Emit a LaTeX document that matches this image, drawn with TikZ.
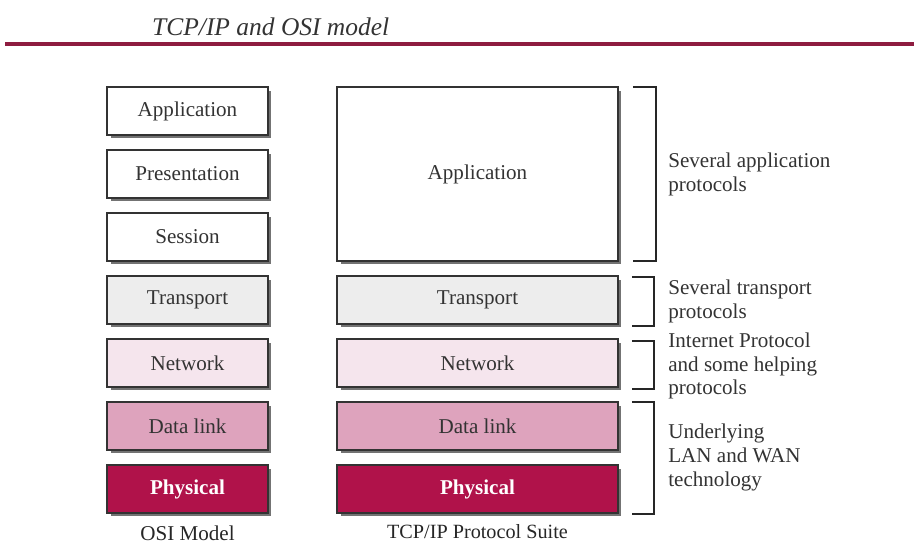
\documentclass[tikz,border=0pt]{standalone}
\usepackage{fontspec}
\setmainfont{Liberation Serif}
\usetikzlibrary{positioning, shadows, calc}
\definecolor{osimaroon}{HTML}{8E1C40}
\definecolor{osiphys}{HTML}{B0124A}
\definecolor{osilink}{HTML}{DEA3BD}
\definecolor{osinet}{HTML}{F5E5ED}
\definecolor{ositrans}{HTML}{EDEDED}

\begin{document}
\begin{tikzpicture}[x=0.02cm, y=-0.02cm,
      layer/.style={draw=black!80, line width=0.8pt, fill=white,
                    minimum width=3.22cm, minimum height=0.96cm,
                    inner sep=0pt, outer sep=0pt,
                    font=\fontsize{12}{14}\selectfont, text=black!80,
                    drop shadow={shadow xshift=0.07cm, shadow yshift=-0.07cm,
                                 fill=black!55, opacity=1}},
      wide/.style={layer, minimum width=5.62cm},
      brace/.style={line width=0.8pt, black!85},
      note/.style={anchor=west, align=left, inner sep=0pt,
                   font=\fontsize{12}{13.6}\selectfont, text=black!80},
      caption/.style={inner sep=0pt, font=\fontsize{12}{14}\selectfont, text=black!85},
    ]
    \useasboundingbox (0,0) rectangle (914,544);

    % ── Title and rule ──
    \node[anchor=west, font=\fontsize{14.5}{17}\selectfont\itshape, text=black!80]
          (title) at (146,27) {TCP/IP and OSI model};
    \coordinate (rulel) at (5,44);
    \coordinate (ruler) at (914,44);
    \draw[osimaroon, line width=2.2pt] (rulel) -- (ruler);

    % ── OSI stack ──
    \node[layer] (oapp)  at (187.5,111) {Application};
    \node[layer] (opres) at (187.5,174) {Presentation};
    \node[layer] (osess) at (187.5,237) {Session};
    \node[layer, fill=ositrans] (otrans) at (187.5,300) {Transport};
    \node[layer, fill=osinet]   (onet)   at (187.5,363) {Network};
    \node[layer, fill=osilink]  (olink)  at (187.5,426) {Data link};
    \node[layer, fill=osiphys, text=white, font=\fontsize{12}{14}\selectfont\bfseries]
          (ophys) at (187.5,489) {Physical};
    \node[caption, below=0.26cm of ophys] (osiname) {OSI Model};

    % ── TCP/IP stack ──
    \node[wide, minimum height=3.48cm] (tapp) at (477.5,174) {Application};
    \node[wide, fill=ositrans] (ttrans) at (477.5,300) {Transport};
    \node[wide, fill=osinet]   (tnet)   at (477.5,363) {Network};
    \node[wide, fill=osilink]  (tlink)  at (477.5,426) {Data link};
    \node[wide, fill=osiphys, text=white, font=\fontsize{12}{14}\selectfont\bfseries]
          (tphys) at (477.5,489) {Physical};
    \node[caption, font=\fontsize{11.5}{14}\selectfont, below=0.23cm of tphys]
          (tcpname) {TCP/IP Protocol Suite};

    % ── Brackets ──
    \draw[brace] ($(tapp.north east)+(15,0)$) -- ++(23,0) |- ($(tapp.south east)+(15,0)$);
    \draw[brace] ($(ttrans.north east)+(14,1)$) -- ++(22,0) |- ($(ttrans.south east)+(14,2)$);
    \draw[brace] ($(tnet.north east)+(14,2)$) -- ++(22,0) |- ($(tnet.south east)+(14,2)$);
    \draw[brace] ($(tlink.north east)+(14,0)$) -- ++(22,0) |- ($(tphys.south east)+(14,1)$);

    % ── Notes ──
    \coordinate (lowmid) at ($(tlink.south east)!0.5!(tphys.north east)$);
    \node[note] (napp)   at ($(tapp.east)+(50,0)$)   {Several application\\protocols};
    \node[note] (ntrans) at ($(ttrans.east)+(50,1)$) {Several transport\\protocols};
    \node[note] (nnet)   at ($(tnet.east)+(50,3)$)   {Internet Protocol\\and some helping\\protocols};
    \node[note] (nlow)   at ($(lowmid)+(50,0)$)      {Underlying\\LAN and WAN\\technology};
  \end{tikzpicture}
\end{document}
